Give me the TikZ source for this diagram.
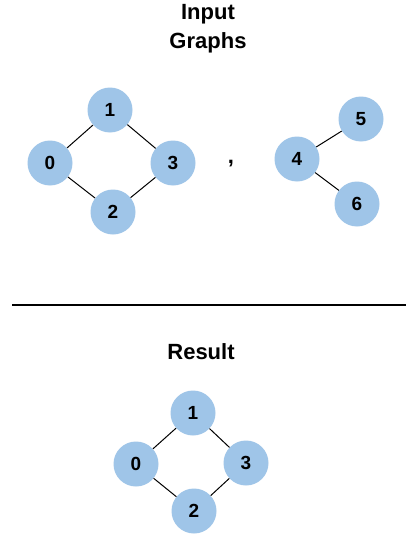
\documentclass[tikz,border=0pt]{standalone}
\usepackage{fontspec}
\setmainfont{Liberation Sans}
\definecolor{vfill}{HTML}{9FC5E8}
\begin{document}
\begin{tikzpicture}[x=1pt,y=-1pt,
  vertex/.style={circle,fill=vfill,minimum size=45pt,inner sep=0pt,
    font=\fontsize{19}{22}\selectfont\bfseries},
  edge/.style={draw=black,line width=1pt},
  title/.style={align=center,font=\fontsize{22}{29}\selectfont\bfseries}]
  \useasboundingbox[fill=white] (0,0) rectangle (406,535);

  % heading
  \node[title] (head) at (208,29) {Input\\Graphs};

  % first input graph
  \node[vertex] (a1) at (110,110) {1};
  \node[vertex] (a0) at (50,163) {0};
  \node[vertex] (a3) at (173,163) {3};
  \node[vertex] (a2) at (113,212) {2};
  \draw[edge] (a0) -- (a1);
  \draw[edge] (a1) -- (a3);
  \draw[edge] (a0) -- (a2);
  \draw[edge] (a2) -- (a3);

  % separator between the two inputs
  \node[anchor=base,inner sep=0pt,font=\fontsize{22}{24}\selectfont\bfseries] (comma) at (231,163) {,};

  % second input graph
  \node[vertex] (b4) at (297,159) {4};
  \node[vertex] (b5) at (361,119) {5};
  \node[vertex] (b6) at (357,204) {6};
  \draw[edge] (b4) -- (b5);
  \draw[edge] (b4) -- (b6);

  % divider
  \coordinate (divL) at (12,305);
  \coordinate (divR) at (406,305);
  \draw[line width=1.3pt] (divL) -- (divR);

  % result
  \node[title] (res) at (201,352) {Result};
  \node[vertex] (r1) at (193,413) {1};
  \node[vertex] (r0) at (136,464) {0};
  \node[vertex] (r3) at (246,463) {3};
  \node[vertex] (r2) at (194,511) {2};
  \draw[edge] (r0) -- (r1);
  \draw[edge] (r1) -- (r3);
  \draw[edge] (r0) -- (r2);
  \draw[edge] (r2) -- (r3);
\end{tikzpicture}
\end{document}
